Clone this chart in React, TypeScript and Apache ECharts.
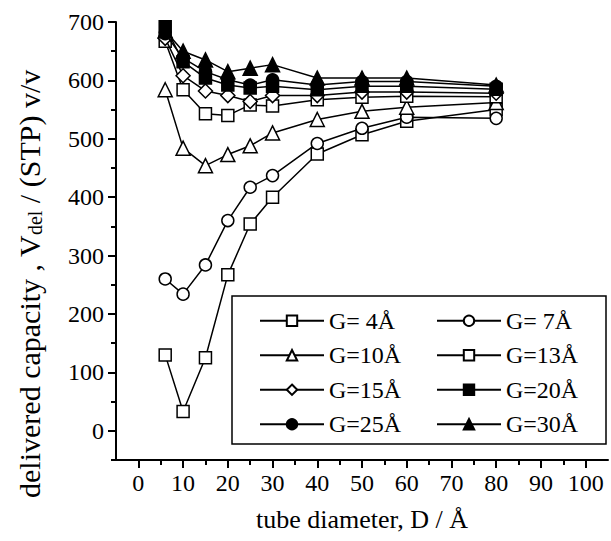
import React, { useEffect, useRef } from "react";
import * as echarts from "echarts";

const D = [6, 10, 15, 20, 25, 30, 40, 50, 60, 80];
const G4 = [130, 33, 125, 267, 354, 400, 474, 507, 530, 550];
const G7 = [260, 234, 284, 360, 417, 437, 492, 518, 537, 535];
const G10 = [584, 484, 454, 473, 488, 510, 533, 547, 554, 562];
const G13 = [667, 584, 543, 540, 558, 556, 567, 571, 573, 572];
const G15 = [672, 608, 582, 574, 564, 574, 574, 580, 580, 578];
const G20 = [692, 632, 604, 592, 587, 590, 584, 590, 590, 585];
const G25 = [680, 638, 615, 601, 592, 601, 592, 598, 598, 590];
const G30 = [685, 650, 635, 615, 621, 627, 604, 604, 604, 592];

const seriesNames = ["G= 4Å", "G= 7Å", "G=10Å", "G=13Å", "G=15Å", "G=20Å", "G=25Å", "G=30Å"];
const seriesValues = [G4, G7, G10, G13, G15, G20, G25, G30];
const seriesSymbols = ["rect", "circle", "triangle", "rect", "diamond", "rect", "circle", "triangle"];
const seriesFilled = [false, false, false, false, false, true, true, true];
const seriesSizes = [12, 12, 14, 12, 14, 12, 12, 14];

const xMajor = [0, 10, 20, 30, 40, 50, 60, 70, 80, 90, 100];
const xMinor = [5, 15, 25, 35, 45, 55, 65, 75, 85, 95];
const yMajor = [0, 100, 200, 300, 400, 500, 600, 700];
const yMinor = [-50, 50, 150, 250, 350, 450, 550, 650];

const FONT = "Liberation Serif";

export default function App() {
  const ref = useRef<HTMLDivElement>(null);
  useEffect(() => {
    if (!ref.current) return;
    const chart = echarts.init(ref.current, undefined, { renderer: "svg" });
    const series = seriesNames.map((name, i) => ({
      name,
      type: "line",
      data: D.map((d, j) => [d, seriesValues[i][j]]),
      symbol: seriesSymbols[i],
      symbolSize: seriesSizes[i],
      showAllSymbol: true,
      lineStyle: { color: "#000", width: 1.5 },
      itemStyle: {
        color: seriesFilled[i] ? "#000" : "#fff",
        borderColor: "#000",
        borderWidth: 1.5,
      },
      emphasis: { disabled: true },
      xAxisIndex: 0,
      yAxisIndex: 0,
      z: 2 + i,
    }));
    const axisText = { fontFamily: FONT, fontSize: 24, color: "#000" };
    chart.setOption({
      animation: false,
      backgroundColor: "#fff",
      textStyle: { fontFamily: FONT },
      grid: { left: 116, top: 22, width: 492, height: 438, outerBoundsMode: "none" },
      legend: {
        data: seriesNames,
        left: 232,
        top: 296,
        width: 368,
        orient: "horizontal",
        padding: [11, 0, 6, 27],
        itemWidth: 64,
        itemHeight: 13,
        itemGap: 7,
        borderColor: "#000",
        borderWidth: 1.5,
        backgroundColor: "#fff",
        selectedMode: false,
        textStyle: { ...axisText, width: 100, lineHeight: 27.5, overflow: "none" },
        z: 20,
      },
      xAxis: [
        {
          type: "value",
          min: -5,
          max: 105,
          interval: 5,
          axisLine: { show: true, onZero: false, lineStyle: { color: "#000", width: 2 } },
          axisTick: { show: true, customValues: xMajor, length: 8, lineStyle: { color: "#000", width: 2 } },
          axisLabel: { ...axisText, customValues: xMajor, margin: 11 },
          splitLine: { show: false },
          name: "tube diameter, D / Å",
          nameLocation: "middle",
          nameGap: 46,
          nameTextStyle: { fontFamily: FONT, fontSize: 26, color: "#000" },
        },
        {
          type: "value",
          min: -5,
          max: 105,
          interval: 5,
          position: "bottom",
          axisLine: { show: false, onZero: false },
          axisTick: { show: true, customValues: xMinor, length: 5, lineStyle: { color: "#000", width: 2 } },
          axisLabel: { show: false },
          splitLine: { show: false },
        },
      ],
      yAxis: [
        {
          type: "value",
          min: -50,
          max: 700,
          interval: 50,
          axisLine: { show: true, onZero: false, lineStyle: { color: "#000", width: 2 } },
          axisTick: { show: true, customValues: yMajor, length: 8, lineStyle: { color: "#000", width: 2 } },
          axisLabel: { ...axisText, customValues: yMajor, margin: 12 },
          splitLine: { show: false },
          name: "delivered capacity , V{sub|del} / (STP) v/v",
          nameLocation: "middle",
          nameGap: 71,
          nameRotate: 90,
          nameTextStyle: {
            fontFamily: FONT,
            fontSize: 30,
            color: "#000",
            lineHeight: 32,
            padding: [0, 86, 0, 0],
            rich: {
              sub: { fontFamily: FONT, fontSize: 20, color: "#000", lineHeight: 14, verticalAlign: "bottom" },
            },
          },
        },
        {
          type: "value",
          min: -50,
          max: 700,
          interval: 50,
          position: "left",
          axisLine: { show: false, onZero: false },
          axisTick: { show: true, customValues: yMinor, length: 5, lineStyle: { color: "#000", width: 2 } },
          axisLabel: { show: false },
          splitLine: { show: false },
        },
      ],
      series,
    });
    return () => chart.dispose();
  }, []);
  return <div ref={ref} style={{ position: "absolute", left: 0, top: 0, width: 611, height: 541 }} />;
}
